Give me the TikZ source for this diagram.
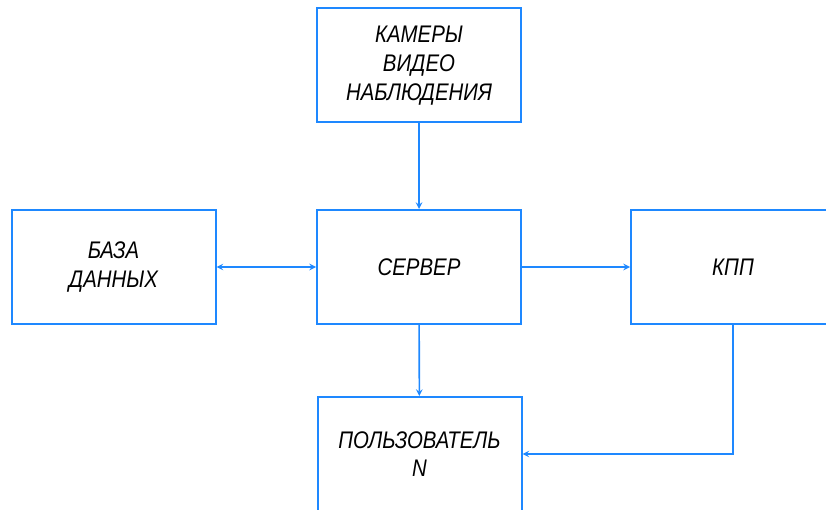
\documentclass[tikz,border=0pt]{standalone}
\usepackage{fontspec}
\setmainfont{Liberation Sans}[FakeStretch=0.85]
\usetikzlibrary{shapes,arrows,positioning}
\definecolor{lineblue}{RGB}{30,136,255}
\tikzstyle{block} = [rectangle, draw=lineblue, line width=1.5pt, minimum width=153pt, minimum height=85.5pt, inner sep=0pt, align=center, font=\itshape\fontsize{18}{21.5}\selectfont]
\tikzstyle{line} = [draw=lineblue, line width=1.2pt, -stealth]
\tikzstyle{dline} = [draw=lineblue, line width=1.2pt, stealth-stealth]

\begin{document}
\begin{tikzpicture}[x=0.75pt, y=-0.75pt]
			\useasboundingbox (0, 0) rectangle (826, 510);
			\clip (0, 0) rectangle (826, 510);
			\node [block] (cams) at (419, 65.5) {КАМЕРЫ\\ВИДЕО\\НАБЛЮДЕНИЯ};
			\node [block] (db) at (113.5, 267) {БАЗА\\ДАННЫХ};
			\node [block] (server) at (419, 267) {СЕРВЕР};
			\node [block] (kpp) at (733, 267) {КПП};
			\node [block] (user) at (419.5, 454) {ПОЛЬЗОВАТЕЛЬ\\N};

			\path [line] (cams) -- (server);
			\path [dline] (db) -- (server);
			\path [line] (server) -- (kpp);
			\path [line] (server) -- (user);
			\path [line] (kpp.south) |- (user.east);
		\end{tikzpicture}
\end{document}
